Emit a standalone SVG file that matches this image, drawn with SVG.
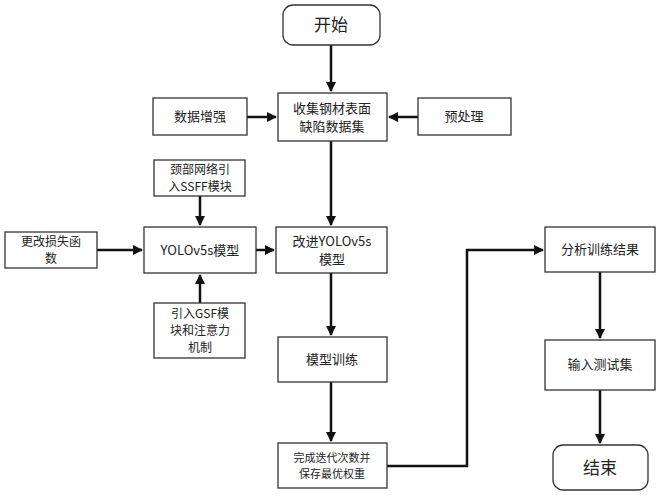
<svg xmlns="http://www.w3.org/2000/svg" width="664" height="500" viewBox="0 0 664 500">
<style>
rect{fill:#fff;stroke:#333;stroke-width:1.3}
text{font-family:"Noto Sans CJK SC","Noto Sans",sans-serif;font-size:13px;fill:#222;text-anchor:middle}
.s{font-size:12px}
.big{font-size:17px}
#conn path{fill:none;stroke:#111;stroke-width:2.5;marker-end:url(#a)}
</style>
<defs><marker id="a" viewBox="0 0 10 10" refX="9" refY="5" markerWidth="4" markerHeight="4" orient="auto"><path d="M0,0L10,5L0,10z" fill="#111"/></marker></defs>
<rect x="0" y="0" width="664" height="500" style="fill:#fff;stroke:none"/>
<g id="conn">
<path d="M331,45V91"/>
<path d="M247,117H276"/>
<path d="M418,117H389"/>
<path d="M331,141V225"/>
<path d="M200,196V225"/>
<path d="M97,250H142"/>
<path d="M200,303V275"/>
<path d="M256,250H274"/>
<path d="M331,273V335"/>
<path d="M331,382V441"/>
<path d="M387,466H467V250H543"/>
<path d="M600,272V338"/>
<path d="M600,390V443"/>
</g>
<g id="start"><rect x="283" y="5" width="97" height="40" rx="10"/><text class="big" x="331" y="31">开始</text></g>
<g id="collect"><rect x="278" y="93" width="109" height="48"/><text x="332" y="113">收集钢材表面</text><text x="332" y="131">缺陷数据集</text></g>
<g id="aug"><rect x="153" y="98" width="94" height="37"/><text x="200" y="121">数据增强</text></g>
<g id="pre"><rect x="418" y="98" width="93" height="37"/><text x="464" y="121">预处理</text></g>
<g id="ssff"><rect x="154" y="160" width="91" height="36"/><text class="s" x="200" y="174">颈部网络引</text><text class="s" x="200" y="191">入SSFF模块</text></g>
<g id="loss"><rect x="5" y="232" width="92" height="36"/><text class="s" x="51" y="246">更改损失函</text><text class="s" x="51" y="263">数</text></g>
<g id="yolo"><rect x="144" y="227" width="112" height="46"/><text x="200" y="255">YOLOv5s模型</text></g>
<g id="improved"><rect x="276" y="227" width="111" height="46"/><text x="332" y="246">改进YOLOv5s</text><text x="332" y="264">模型</text></g>
<g id="gsf"><rect x="154" y="303" width="91" height="55"/><text class="s" x="200" y="318">引入GSF模</text><text class="s" x="200" y="335">块和注意力</text><text class="s" x="200" y="352">机制</text></g>
<g id="train"><rect x="278" y="337" width="109" height="45"/><text x="332" y="364">模型训练</text></g>
<g id="save"><rect x="278" y="443" width="109" height="45"/><text x="332" y="462" style="font-size:11px">完成迭代次数并</text><text x="332" y="478" style="font-size:11px">保存最优权重</text></g>
<g id="analyze"><rect x="545" y="227" width="110" height="45"/><text x="600" y="254">分析训练结果</text></g>
<g id="test"><rect x="545" y="340" width="110" height="50"/><text x="600" y="369">输入测试集</text></g>
<g id="end"><rect x="553" y="445" width="95" height="45" rx="10"/><text class="big" x="600" y="474">结束</text></g>
</svg>
